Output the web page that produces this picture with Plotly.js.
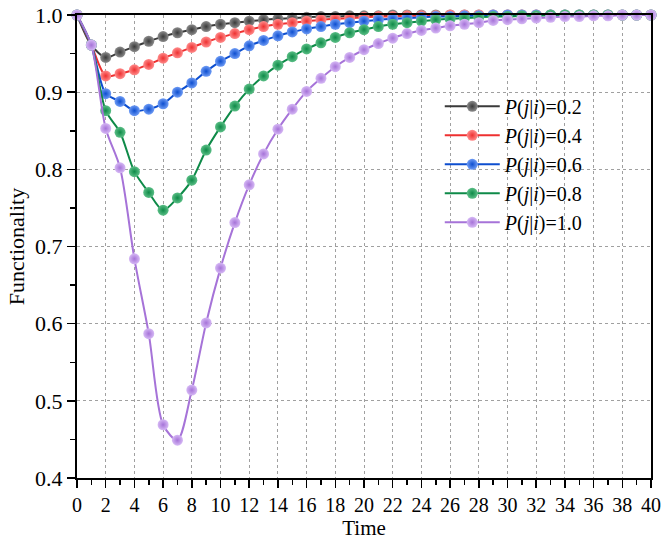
<!DOCTYPE html>
<html>
<head>
<meta charset="utf-8">
<script src="https://cdn.plot.ly/plotly-3.0.1.min.js"></script>
<style>html,body{margin:0;padding:0;background:#fff;}#chart{width:662px;height:543px;}</style>
</head>
<body>
<div id="chart"></div>
<script>
const time = [0,1,2,3,4,5,6,7,8,9,10,11,12,13,14,15,16,17,18,19,20,21,22,23,24,25,26,27,28,29,30,31,32,33,34,35,36,37,38,39,40];

const seriesNames = ["<i>P</i>(<i>j</i>|<i>i</i>)=0.2", "<i>P</i>(<i>j</i>|<i>i</i>)=0.4", "<i>P</i>(<i>j</i>|<i>i</i>)=0.6", "<i>P</i>(<i>j</i>|<i>i</i>)=0.8", "<i>P</i>(<i>j</i>|<i>i</i>)=1.0"];

const p02 = [1.0,0.961,0.945,0.952,0.959,0.966,0.972,0.977,0.981,0.985,0.988,0.990,0.992,0.994,0.995,0.996,0.997,0.998,0.998,0.999,0.999,0.999,1.0,1.0,1.0,1.0,1.0,1.0,1.0,1.0,1.0,1.0,1.0,1.0,1.0,1.0,1.0,1.0,1.0,1.0,1.0];
const p04 = [1.0,0.961,0.921,0.924,0.929,0.936,0.944,0.951,0.958,0.965,0.971,0.976,0.981,0.985,0.988,0.990,0.992,0.994,0.995,0.996,0.997,0.998,0.998,0.999,0.999,0.999,1.0,1.0,1.0,1.0,1.0,1.0,1.0,1.0,1.0,1.0,1.0,1.0,1.0,1.0,1.0];
const p06 = [1.0,0.961,0.898,0.888,0.876,0.878,0.885,0.900,0.912,0.927,0.940,0.950,0.960,0.967,0.973,0.978,0.982,0.985,0.988,0.990,0.992,0.994,0.995,0.996,0.997,0.998,0.998,0.999,0.999,1.0,1.0,1.0,1.0,1.0,1.0,1.0,1.0,1.0,1.0,1.0,1.0];
const p08 = [1.0,0.961,0.876,0.848,0.797,0.770,0.747,0.763,0.786,0.825,0.855,0.882,0.904,0.921,0.935,0.946,0.956,0.964,0.971,0.977,0.981,0.985,0.988,0.990,0.992,0.994,0.995,0.996,0.997,0.998,0.998,0.999,0.999,1.0,1.0,1.0,1.0,1.0,1.0,1.0,1.0];
const p10 = [1.0,0.961,0.853,0.802,0.684,0.587,0.469,0.449,0.514,0.601,0.672,0.731,0.780,0.820,0.852,0.878,0.901,0.918,0.933,0.945,0.955,0.963,0.970,0.976,0.980,0.983,0.986,0.988,0.990,0.993,0.994,0.995,0.996,0.997,0.998,0.998,0.999,0.999,1.0,1.0,1.0];

const lineColors = ["#3a3a3a", "#ee3030", "#0d4ecf", "#0e8a48", "#a673d8"];
const lightColors = ["#8c8c8c", "#ff8c8c", "#6f9cf5", "#5cbf87", "#d6b9f5"];
const allSeries = [p02, p04, p06, p08, p10];

const font = "'Liberation Serif', 'Times New Roman', serif";

const traces = allSeries.map((ys, k) => ({
  x: time,
  y: ys,
  name: seriesNames[k],
  type: "scatter",
  mode: "lines+markers",
  cliponaxis: false,
  line: {color: lineColors[k], width: 2, shape: "spline", smoothing: 0.8},
  marker: {
    symbol: "circle",
    size: 11,
    color: lightColors[k],
    gradient: {type: "radial", color: lineColors[k]},
    line: {width: 0}
  }
}));

const layout = {
  width: 662,
  height: 543,
  margin: {l: 77, r: 11, t: 15, b: 65},
  paper_bgcolor: "#fff",
  plot_bgcolor: "#fff",
  font: {family: font, size: 20, color: "#000"},
  showlegend: true,
  legend: {
    x: 0.632, y: 0.845, xanchor: "left", yanchor: "top",
    bgcolor: "rgba(0,0,0,0)",
    font: {family: font, size: 20, color: "#000"},
    tracegroupgap: 0,
    itemwidth: 55
  },
  xaxis: {
    range: [0, 40],
    dtick: 2,
    tick0: 0,
    ticks: "outside",
    ticklen: 8,
    tickwidth: 1.5,
    tickcolor: "#000",
    showline: true,
    linecolor: "#000",
    linewidth: 2,
    mirror: true,
    showgrid: true,
    gridcolor: "#a0a0a0",
    griddash: "3px,3px",
    gridwidth: 1,
    zeroline: false,
    minor: {dtick: 1, ticks: "outside", ticklen: 5, tickcolor: "#000", tickwidth: 1.5, showgrid: false},
    tickfont: {family: font, size: 20, color: "#000"},
    title: {text: "Time", font: {family: font, size: 21, color: "#000"}, standoff: 4}
  },
  yaxis: {
    range: [0.4, 1.0],
    dtick: 0.1,
    tick0: 0.4,
    tickformat: ".1f",
    ticks: "outside",
    ticklen: 8,
    tickwidth: 1.5,
    tickcolor: "#000",
    showline: true,
    linecolor: "#000",
    linewidth: 2,
    mirror: true,
    showgrid: true,
    gridcolor: "#a0a0a0",
    griddash: "3px,3px",
    gridwidth: 1,
    zeroline: false,
    minor: {dtick: 0.05, ticks: "outside", ticklen: 5, tickcolor: "#000", tickwidth: 1.5, showgrid: false},
    tickfont: {family: font, size: 22, color: "#000"},
    title: {text: "Functionality", font: {family: font, size: 22, color: "#000"}, standoff: 4}
  }
};

Plotly.newPlot("chart", traces, layout, {displayModeBar: false, staticPlot: true});
</script>
</body>
</html>
